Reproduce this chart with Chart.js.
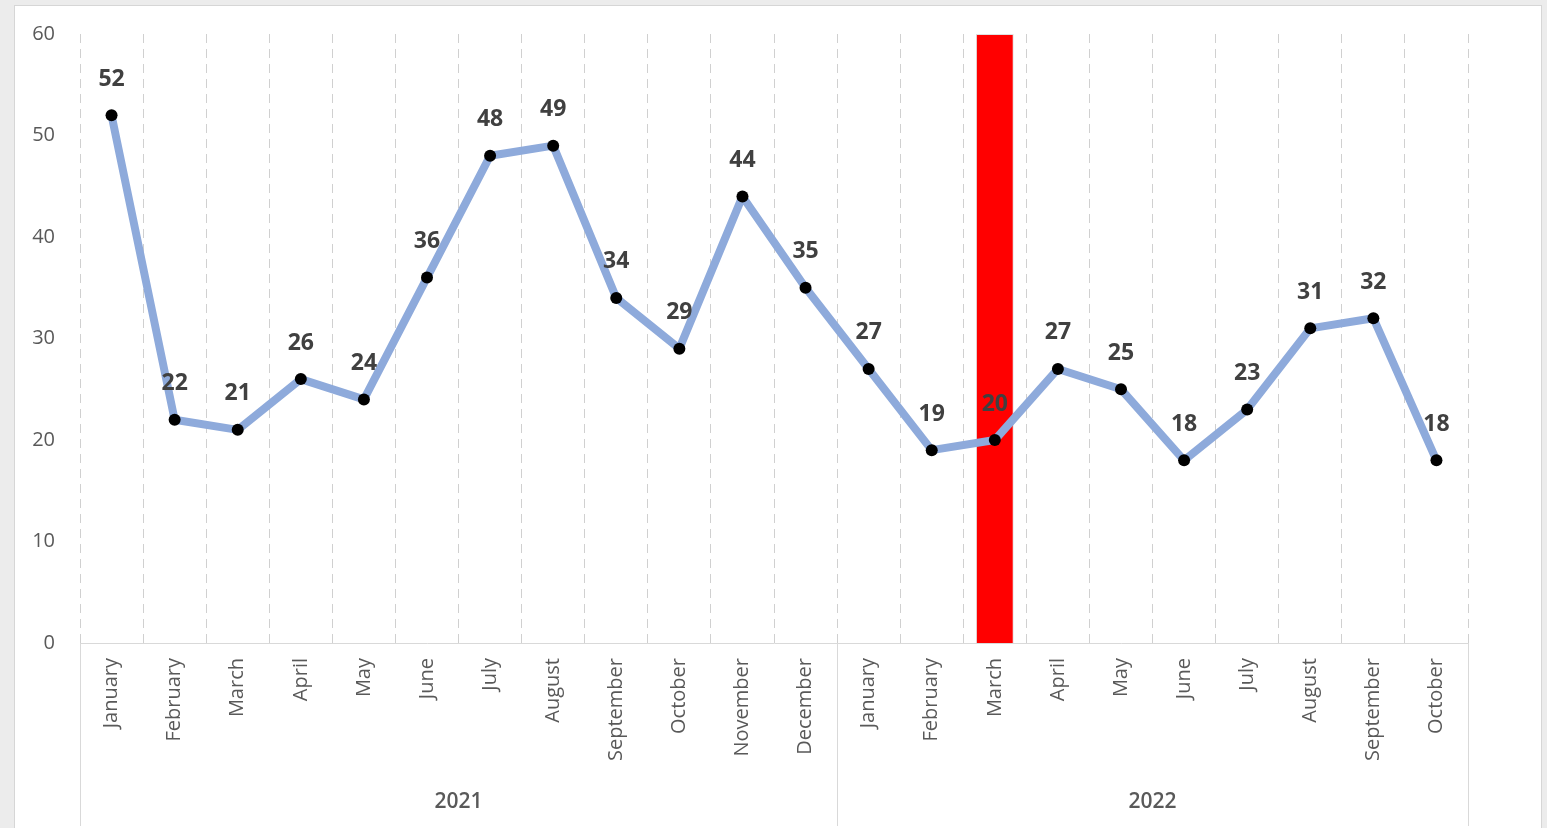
<!DOCTYPE html>
<html>
<head>
<meta charset="utf-8">
<title>Monthly chart</title>
<script src="https://cdn.jsdelivr.net/npm/chart.js@4"></script>
<style>
    html, body { margin: 0; padding: 0; background: #ececec; overflow: hidden; }
    #panel {
        position: absolute; left: 14px; top: 5px;
        width: 1526px; height: 830px;
        background: #fff; border: 1px solid #d6d6d6;
    }
    #panel canvas { display: block; }
</style>
</head>
<body>
<div id="panel"><canvas id="monthChart" width="1526" height="822"></canvas></div>
<script>
// Chart data
const months = ['January', 'February', 'March', 'April', 'May', 'June', 'July', 'August',
    'September', 'October', 'November', 'December',
    'January', 'February', 'March', 'April', 'May', 'June', 'July', 'August',
    'September', 'October'];
const counts = [52, 22, 21, 26, 24, 36, 48, 49, 34, 29, 44, 35,
    27, 19, 20, 27, 25, 18, 23, 31, 32, 18];
const highlight = [null, null, null, null, null, null, null, null, null, null, null, null,
    null, null, 60, null, null, null, null, null, null, null];
const yearLabels = ['2021', '2022'];
const yearSpans = [12, 10];
const yTicks = [0, 10, 20, 30, 40, 50, 60];

const FONT = '"Open Sans", "Noto Sans", sans-serif';

// value labels above the line points
const pointLabels = {
    id: 'pointLabels',
    afterDatasetsDraw(chart) {
        const ctx = chart.ctx;
        const meta = chart.getDatasetMeta(1);
        ctx.save();
        ctx.font = 'bold 23px ' + FONT;
        ctx.fillStyle = '#404040';
        ctx.textAlign = 'center';
        ctx.textBaseline = 'middle';
        meta.data.forEach((pt, i) => {
            ctx.fillText(String(counts[i]), pt.x, pt.y - 36);
        });
        ctx.restore();
    }
};

// second row of the category axis (years) with separators
const yearRow = {
    id: 'yearRow',
    afterDraw(chart) {
        const ctx = chart.ctx;
        const x = chart.scales.x;
        const half = (x.getPixelForValue(1) - x.getPixelForValue(0)) / 2;
        const top = x.top;
        const bottom = chart.height - 2;
        ctx.save();
        ctx.strokeStyle = '#d9d9d9';
        ctx.lineWidth = 1;
        let start = 0;
        const edges = [x.getPixelForValue(0) - half];
        yearSpans.forEach((span, k) => {
            const left = x.getPixelForValue(start) - half;
            const right = x.getPixelForValue(start + span - 1) + half;
            edges.push(right);
            ctx.font = '600 21px ' + FONT;
            ctx.fillStyle = '#595959';
            ctx.textAlign = 'center';
            ctx.textBaseline = 'middle';
            ctx.fillText(yearLabels[k], (left + right) / 2, 796);
            start += span;
        });
        edges.forEach((ex) => {
            const px = Math.round(ex) + 0.5;
            ctx.beginPath();
            ctx.moveTo(px, top);
            ctx.lineTo(px, bottom);
            ctx.stroke();
        });
        ctx.restore();
    }
};

const ctx = document.getElementById('monthChart').getContext('2d');
new Chart(ctx, {
    type: 'bar',
    data: {
        labels: months,
        datasets: [{
            type: 'bar',
            data: highlight,
            backgroundColor: '#ff0000',
            borderColor: 'rgba(0,0,0,0.12)',
            borderWidth: 1,
            barPercentage: 0.6,
            categoryPercentage: 1,
            order: 2,
        }, {
            type: 'line',
            data: counts,
            borderColor: '#8eaadb',
            borderWidth: 8,
            borderCapStyle: 'round',
            borderJoinStyle: 'round',
            tension: 0,
            pointRadius: 6,
            pointBackgroundColor: '#000',
            pointBorderWidth: 0,
            order: 1,
        }],
    },
    options: {
        responsive: false,
        animation: false,
        layout: { padding: { top: 28, right: 73, left: 0, bottom: 0 } },
        plugins: {
            legend: { display: false },
            tooltip: { enabled: false },
        },
        scales: {
            x: {
                offset: true,
                grid: { offset: true, color: '#d0d0d0', lineWidth: 1, drawTicks: false },
                border: { display: true, color: '#d9d9d9', width: 1, dash: [9, 6] },
                ticks: {
                    autoSkip: false,
                    maxRotation: 90,
                    minRotation: 90,
                    padding: 15,
                    color: '#595959',
                    font: { family: FONT, size: 20 },
                },
                afterFit(scale) {
                    scale.height = 185;
                    scale.paddingTop = 0;
                    scale.paddingBottom = 0;
                    scale.paddingLeft = 0;
                    scale.paddingRight = 0;
                },
            },
            y: {
                min: 0,
                max: 60,
                grid: { display: false, drawTicks: false },
                border: { display: false },
                afterBuildTicks(scale) { scale.ticks = yTicks.map((v) => ({ value: v })); },
                ticks: {
                    padding: 25,
                    color: '#595959',
                    font: { family: FONT, size: 20 },
                },
                afterFit(scale) {
                    scale.width = 65;
                    scale.paddingTop = 0;
                    scale.paddingBottom = 0;
                },
            },
        },
    },
    plugins: [pointLabels, yearRow],
});
</script>
</body>
</html>
